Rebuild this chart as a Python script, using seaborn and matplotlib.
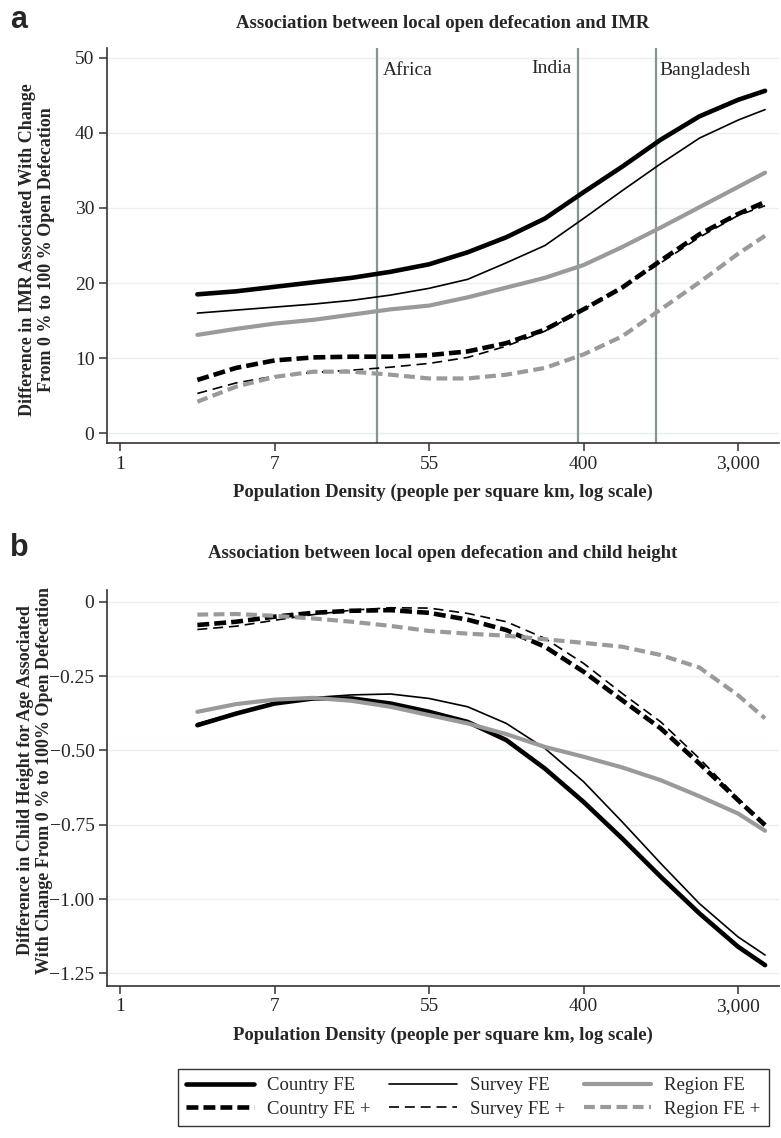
import matplotlib
matplotlib.use("Agg")
import matplotlib.pyplot as plt
import pandas as pd
import seaborn as sns

# x positions: natural log of population density
log_density = [1.0, 1.5, 2.0, 2.5, 3.0, 3.5, 4.0, 4.5, 5.0, 5.5, 6.0, 6.5, 7.0, 7.5, 8.0, 8.35]

# panel a: IMR difference
imr_country = [18.5, 18.9, 19.5, 20.1, 20.7, 21.5, 22.5, 24.1, 26.1, 28.6, 32.1, 35.5, 39.1, 42.2, 44.4, 45.6]
imr_survey = [16.0, 16.4, 16.8, 17.2, 17.7, 18.4, 19.3, 20.5, 22.7, 25.0, 28.6, 32.3, 35.9, 39.3, 41.7, 43.1]
imr_region = [13.1, 13.9, 14.6, 15.1, 15.8, 16.5, 17.0, 18.1, 19.4, 20.7, 22.4, 24.8, 27.4, 30.1, 32.8, 34.7]
imr_country_plus = [7.1, 8.7, 9.7, 10.1, 10.2, 10.2, 10.4, 10.9, 12.0, 13.8, 16.5, 19.4, 23.0, 26.5, 29.2, 30.8]
imr_survey_plus = [5.3, 6.7, 7.6, 8.1, 8.4, 8.8, 9.3, 10.1, 11.6, 13.6, 16.5, 19.5, 22.7, 26.1, 29.0, 30.3]
imr_region_plus = [4.2, 6.2, 7.5, 8.2, 8.2, 7.8, 7.3, 7.3, 7.8, 8.7, 10.5, 12.9, 16.5, 20.1, 23.9, 26.3]

# panel b: height-for-age difference
haz_country = [-0.415, -0.376, -0.342, -0.325, -0.325, -0.342, -0.370, -0.404, -0.465, -0.561, -0.673, -0.796, -0.925, -1.048, -1.160, -1.222]
haz_survey = [-0.410, -0.374, -0.342, -0.322, -0.313, -0.310, -0.325, -0.353, -0.409, -0.493, -0.605, -0.740, -0.880, -1.015, -1.127, -1.188]
haz_region = [-0.370, -0.344, -0.329, -0.323, -0.333, -0.353, -0.381, -0.409, -0.445, -0.488, -0.521, -0.557, -0.600, -0.654, -0.712, -0.770]
haz_country_plus = [-0.078, -0.067, -0.050, -0.037, -0.030, -0.028, -0.037, -0.060, -0.095, -0.151, -0.235, -0.331, -0.426, -0.544, -0.667, -0.751]
haz_survey_plus = [-0.093, -0.082, -0.062, -0.043, -0.028, -0.020, -0.021, -0.039, -0.067, -0.123, -0.207, -0.308, -0.404, -0.527, -0.661, -0.746]
haz_region_plus = [-0.043, -0.041, -0.047, -0.056, -0.067, -0.081, -0.098, -0.107, -0.114, -0.126, -0.138, -0.151, -0.179, -0.221, -0.314, -0.392]

series_names = ["Country FE", "Survey FE", "Region FE", "Country FE +", "Survey FE +", "Region FE +"]

x_ticks = [0, 2, 4, 6, 8]
x_tick_labels = ["1", "7", "55", "400", "3,000"]
imr_ticks = [0, 10, 20, 30, 40, 50]
haz_ticks = [0, -0.25, -0.50, -0.75, -1.00, -1.25]
haz_tick_labels = ["0", "\u22120.25", "\u22120.50", "\u22120.75", "\u22121.00", "\u22121.25"]

ref_names = ["Africa", "India", "Bangladesh"]
ref_pos = [3.33, 5.93, 6.94]

GRAY = "#9a9a9a"
line_styles = {
    "Country FE": dict(color="black", lw=3.3, ls="-"),
    "Survey FE": dict(color="black", lw=1.2, ls="-"),
    "Region FE": dict(color=GRAY, lw=3.0, ls="-"),
    "Country FE +": dict(color="black", lw=3.3, ls=(0, (2.6, 1.1))),
    "Survey FE +": dict(color="black", lw=1.2, ls=(0, (6, 3.5))),
    "Region FE +": dict(color=GRAY, lw=3.0, ls=(0, (2.6, 1.3))),
}


def long_frame(values):
    frames = []
    for name, ys in zip(series_names, values):
        frames.append(pd.DataFrame({"x": log_density, "y": ys, "series": name}))
    return pd.concat(frames, ignore_index=True)


def style_axes(ax):
    ax.spines["top"].set_visible(False)
    ax.spines["right"].set_visible(False)
    for s in ["left", "bottom"]:
        ax.spines[s].set_color("#333333")
        ax.spines[s].set_linewidth(1.2)
    ax.tick_params(axis="both", direction="out", length=6, width=1.1, color="#333333",
                   labelsize=14, pad=3)
    ax.yaxis.grid(True, color="#e8f1f2", lw=1.0)
    ax.xaxis.grid(False)
    ax.set_axisbelow(True)
    ax.set_xlim(-0.17, 8.53)
    ax.set_xticks(x_ticks)
    ax.set_xticklabels(x_tick_labels)
    ax.set_xlabel("Population Density (people per square km, log scale)",
                  fontsize=13.5, fontweight="bold", labelpad=8)
    ax.set_ylabel("")


def draw_lines(ax, df):
    for name in series_names:
        st = line_styles[name]
        sns.lineplot(data=df[df["series"] == name], x="x", y="y", ax=ax,
                     color=st["color"], lw=st["lw"], linestyle=st["ls"],
                     solid_joinstyle="round", dash_joinstyle="round",
                     errorbar=None, label=name, legend=False)


sns.set_style("ticks")
plt.rcParams["font.family"] = ["Liberation Serif", "DejaVu Serif"]

fig = plt.figure(figsize=(7.81, 11.38), dpi=100)
ax_a = fig.add_axes([0.137, 0.6107, 0.8604, 0.3471])
ax_b = fig.add_axes([0.137, 0.1336, 0.8604, 0.348])

# panel a
df_a = long_frame([imr_country, imr_survey, imr_region,
                   imr_country_plus, imr_survey_plus, imr_region_plus])
for name, pos in zip(ref_names, ref_pos):
    ax_a.axvline(pos, color="#869494", lw=1.6, zorder=1)
draw_lines(ax_a, df_a)
style_axes(ax_a)
ax_a.set_ylim(-1.3, 51.3)
ax_a.set_yticks(imr_ticks)
ax_a.annotate("Africa", xy=(ref_pos[0], 48.3), xytext=(4, 0), textcoords="offset points",
              ha="left", va="center", fontsize=14)
ax_a.annotate("India", xy=(ref_pos[1], 48.6), xytext=(-5, 0), textcoords="offset points",
              ha="right", va="center", fontsize=14)
ax_a.annotate("Bangladesh", xy=(ref_pos[2], 48.3), xytext=(2, 0), textcoords="offset points",
              ha="left", va="center", fontsize=14)

# panel b
df_b = long_frame([haz_country, haz_survey, haz_region,
                   haz_country_plus, haz_survey_plus, haz_region_plus])
draw_lines(ax_b, df_b)
style_axes(ax_b)
ax_b.set_ylim(-1.292, 0.04)
ax_b.set_yticks(haz_ticks)
ax_b.set_yticklabels(haz_tick_labels)

# titles, panel letters, y labels
fig.text(443 / 781, 1 - 23 / 1138, "Association between local open defecation and IMR",
         ha="center", va="center", fontsize=13.5, fontweight="bold")
fig.text(443 / 781, 1 - 553 / 1138, "Association between local open defecation and child height",
         ha="center", va="center", fontsize=13.5, fontweight="bold")
fig.text(10 / 781, 1 - 20 / 1138, "a", ha="left", va="center", fontsize=22,
         fontweight="bold", family="Liberation Sans")
fig.text(10 / 781, 1 - 548 / 1138, "b", ha="left", va="center", fontsize=22,
         fontweight="bold", family="Liberation Sans")
fig.text(37 / 781, 1 - 250 / 1138,
         "Difference in IMR Associated With Change\nFrom 0 % to 100 % Open Defecation",
         rotation=90, ha="center", va="center", multialignment="center",
         fontsize=13, fontweight="bold", linespacing=1.15)
fig.text(35 / 781, 1 - 780 / 1138,
         "Difference in Child Height for Age Associated\nWith Change From 0 % to 100% Open Defecation",
         rotation=90, ha="center", va="center", multialignment="center",
         fontsize=13, fontweight="bold", linespacing=1.15)

# legend: two rows of three
handles, labels = ax_a.get_legend_handles_labels()
order = [0, 3, 1, 4, 2, 5]
leg = fig.legend([handles[i] for i in order], [labels[i] for i in order],
                 ncol=3, loc="center", bbox_to_anchor=(0.6063, 1 - 1097.5 / 1138),
                 fontsize=13.5, frameon=True, fancybox=False, edgecolor="black",
                 handlelength=3.6, handletextpad=0.7, columnspacing=1.0,
                 borderpad=0.45, labelspacing=0.35)
leg.get_frame().set_linewidth(1.0)

fig.savefig("out.png", dpi=100, facecolor="white")
